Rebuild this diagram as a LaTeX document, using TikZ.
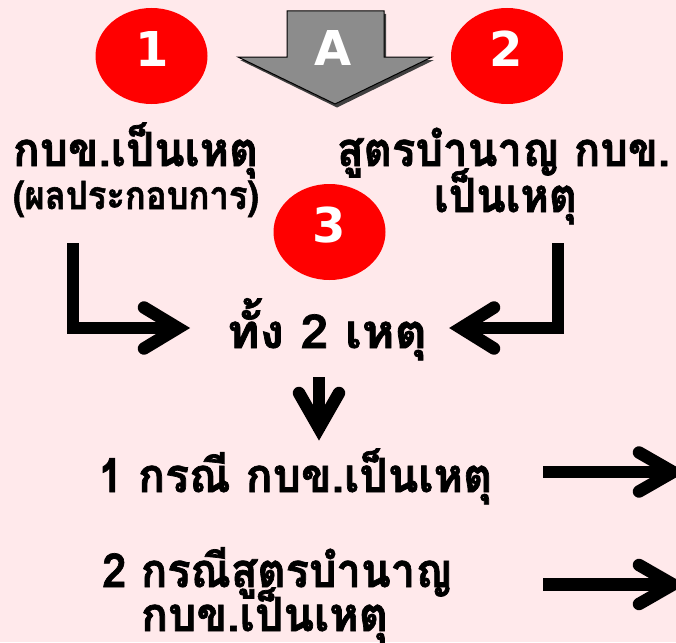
\documentclass[tikz,border=0pt]{standalone}
\usepackage{fontspec}
\usepackage{graphicx}
\usetikzlibrary{shapes.geometric}
\newfontfamily\thaifont[Script=Thai, BoldFeatures={FakeBold=1.5}]{Loma}
\newfontfamily\numfont{DejaVu Sans}
\newcommand{\fitto}[2]{\resizebox{#1}{\height}{#2}}
\definecolor{bgpink}{RGB}{255,233,235}
\definecolor{badgered}{RGB}{255,0,0}
\definecolor{arrowgray}{RGB}{140,140,140}
\definecolor{shadowgray}{RGB}{64,64,64}
\tikzset{
  badge/.style={ellipse, fill=badgered, minimum width=112pt, minimum height=96pt, inner sep=0pt},
  badgetext/.style={anchor=base, inner sep=0pt, text=white, font=\numfont\bfseries\fontsize{48}{48}\selectfont},
  thaitext/.style={anchor=base, inner sep=0pt, font=\thaifont\bfseries\fontsize{47}{50}\selectfont},
  subtext/.style={anchor=base, inner sep=0pt, font=\thaifont\bfseries\fontsize{39}{42}\selectfont},
  shaft/.style={line width=12.5pt, line join=miter, line cap=butt, black},
  chev/.style={line width=12.5pt, line join=miter, miter limit=10, line cap=round, black}
}
\begin{document}
\begin{tikzpicture}[x=1pt,y=-1pt]
\fill[bgpink] (0,0) rectangle (676,642);
\useasboundingbox (0,0) rectangle (676,642);

% badges
\node[badge] (b1) at (151.5,56) {};
\node[badgetext] (b1t) at (152,66.7) {1};
\node[badge] (b2) at (507,56) {};
\node[badgetext] (b2t) at (506,66.7) {2};
\node[badge] (b3) at (329.5,232) {};
\node[badgetext] (b3t) at (329.5,242.7) {3};

% big gray arrow A
\fill[shadowgray] (289,14) -- (386,14) -- (386,60) -- (434,60) -- (337,107.5) -- (240,60) -- (289,60) -- cycle;
\filldraw[fill=arrowgray, draw=black, line width=1pt] (287,11) -- (384,11) -- (384,57) -- (432,57) -- (335,104) -- (238,57) -- (287,57) -- cycle;
\node[badgetext] (at) at (333.5,65.7) {A};

% texts
\node[thaitext] (t1) at (135.5,166) {\fitto{245pt}{กบข.เป็นเหตุ}};
\node[subtext] (t1b) at (136,209) {\fitto{246pt}{(ผลประกอบการ)}};
\node[thaitext] (t2) at (503.5,166) {\fitto{333pt}{สูตรบำนาญ กบข.}};
\node[thaitext] (t2b) at (505.5,212) {\fitto{143pt}{เป็นเหตุ}};
\node[thaitext] (both) at (327,348) {\fitto{200pt}{ทั้ง 2 เหตุ}};
\node[thaitext, anchor=base west] (r1) at (98,492) {\fitto{394pt}{1 กรณี กบข.เป็นเหตุ}};
\node[thaitext, anchor=base west] (r2) at (102,587) {\fitto{350pt}{2 กรณีสูตรบำนาญ}};
\node[thaitext] (r2b) at (264.5,631) {\fitto{247pt}{กบข.เป็นเหตุ}};

% connector coordinates
\coordinate (lstart) at (73,243);
\coordinate (ltip) at (178,328);
\coordinate (rstart) at (558,243);
\coordinate (rtip) at (461,328);
\coordinate (dstart) at (319,377);
\coordinate (dtip) at (319,428);
\coordinate (o1start) at (543,472);
\coordinate (o1tip) at (673,472);
\coordinate (o2start) at (543,584.5);
\coordinate (o2tip) at (673,584.5);

% left bent arrow
\draw[shaft] (lstart) |- ([xshift=-3pt]ltip);
\draw[chev] ([shift={(-34,-20.5)}]ltip) -- (ltip) -- ([shift={(-34,20.5)}]ltip);
% right bent arrow
\draw[shaft] (rstart) |- ([xshift=3pt]rtip);
\draw[chev] ([shift={(33,-20.5)}]rtip) -- (rtip) -- ([shift={(33,20.5)}]rtip);
% down arrow
\draw[shaft] (dstart) -- ([yshift=-3pt]dtip);
\draw[chev] ([shift={(-20,-35)}]dtip) -- (dtip) -- ([shift={(20,-35)}]dtip);
% outgoing arrows
\draw[shaft] (o1start) -- ([xshift=-3pt]o1tip);
\draw[chev] ([shift={(-34,-19.5)}]o1tip) -- (o1tip) -- ([shift={(-34,19.5)}]o1tip);
\draw[shaft] (o2start) -- ([xshift=-3pt]o2tip);
\draw[chev] ([shift={(-34,-19.5)}]o2tip) -- (o2tip) -- ([shift={(-34,19.5)}]o2tip);
\end{tikzpicture}
\end{document}
